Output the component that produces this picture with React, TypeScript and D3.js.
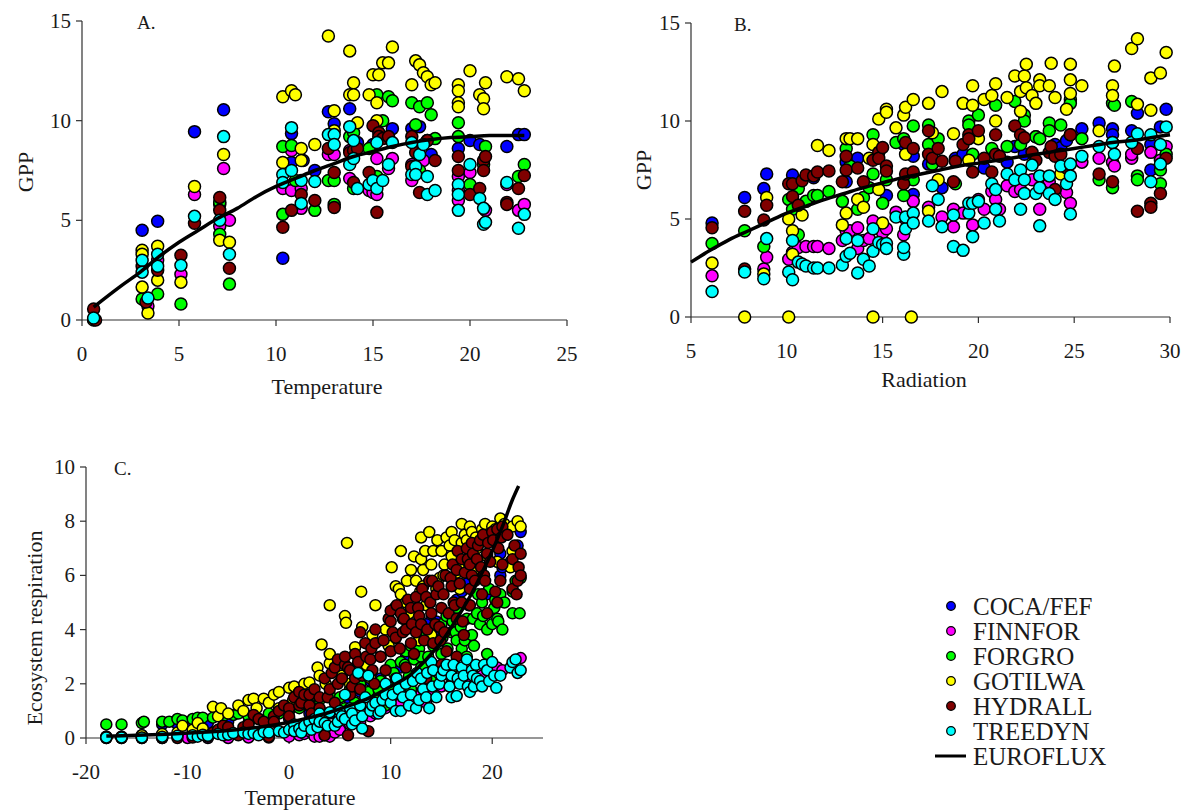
import React from "react";
import * as d3 from "d3";

type Pt = [number, number];

const SERIES_NAMES = ["COCA/FEF", "FINNFOR", "FORGRO", "GOTILWA", "HYDRALL", "TREEDYN"];
const SERIES_COLORS = ["#0000ff", "#ff00ff", "#00ff00", "#ffff00", "#800000", "#00ffff"];
const CURVE_NAME = "EUROFLUX";

// ---------- Panel A : GPP vs Temperature ----------
const A_COCA: Pt[] = [[3.1,4.5],[3.9,4.95],[5.8,9.45],[7.1,5.8],[7.3,10.55],[10.35,3.1],[10.8,9.35],[10.8,7.9],[12.0,7.5],[12.7,10.45],[13.0,9.85],[13.8,10.6],[15.0,8.8],[16.0,9.6],[17.0,9.6],[17.4,9.7],[18.0,8.3],[19.4,8.6],[20.0,9.0],[20.5,8.8],[21.9,8.7],[22.5,9.3],[22.8,9.3],[11.4,8.0],[14.2,8.9],[17.8,9.0]];
const A_FINNFOR: Pt[] = [[0.6,0.05],[3.4,0.7],[3.9,3.0],[5.1,2.3],[5.8,6.3],[7.1,4.7],[7.3,7.6],[7.6,5.0],[10.35,6.6],[10.8,8.5],[10.8,6.5],[11.3,6.6],[11.3,5.6],[12.7,8.3],[13.0,8.3],[13.8,8.5],[13.8,7.1],[14.8,6.5],[15.0,6.4],[15.2,8.1],[15.2,6.3],[15.8,7.6],[16.0,8.1],[17.0,7.8],[17.0,7.0],[17.6,8.0],[19.4,7.2],[19.4,6.5],[19.4,6.0],[20.0,7.4],[20.8,5.5],[21.9,6.8],[22.5,5.5],[22.8,5.8]];
const A_FORGRO: Pt[] = [[0.6,0.05],[3.1,1.05],[3.9,1.3],[5.1,0.8],[7.1,5.9],[7.1,4.3],[7.6,1.8],[10.35,8.7],[10.35,5.3],[10.8,8.75],[11.0,7.0],[12.0,5.5],[12.7,7.0],[13.0,7.0],[13.0,5.8],[13.8,9.2],[14.0,9.4],[14.0,6.6],[14.8,8.6],[15.2,11.3],[15.2,7.2],[15.5,10.0],[15.8,11.2],[16.0,11.0],[17.0,10.9],[17.2,9.8],[17.4,10.7],[17.4,7.5],[17.8,10.9],[18.0,10.3],[18.2,9.1],[19.4,9.9],[19.4,9.2],[20.0,6.8],[20.7,7.8],[20.8,8.7],[22.5,7.2],[22.8,7.8]];
const A_GOTILWA: Pt[] = [[0.6,0.0],[3.1,3.5],[3.1,3.3],[3.1,1.65],[3.4,0.35],[3.9,3.7],[3.9,2.0],[5.1,1.9],[5.8,6.7],[7.1,4.0],[7.3,8.3],[7.6,3.9],[10.35,11.2],[10.35,7.9],[10.8,11.5],[11.0,11.3],[11.3,8.6],[11.3,8.0],[12.0,8.8],[12.7,14.25],[13.0,10.5],[13.0,9.5],[13.8,13.5],[13.8,11.3],[14.0,11.9],[14.0,11.3],[14.2,9.9],[14.8,11.3],[15.0,12.3],[15.2,10.9],[15.2,10.0],[15.3,12.3],[15.5,12.9],[15.8,12.9],[16.0,13.7],[17.0,11.8],[17.2,13.0],[17.4,12.8],[17.6,12.4],[17.8,12.2],[18.0,11.8],[18.2,11.9],[19.4,11.8],[19.4,11.5],[19.4,10.9],[19.4,10.7],[20.0,12.5],[20.5,11.3],[20.7,11.1],[20.7,10.6],[20.8,11.9],[21.9,12.2],[22.5,12.1],[22.8,11.5]];
const A_HYDRALL: Pt[] = [[0.6,0.55],[0.7,0.0],[3.1,2.7],[3.3,0.9],[3.9,2.5],[5.1,3.25],[5.8,4.85],[7.1,6.15],[7.1,5.5],[7.6,2.6],[10.35,4.65],[10.8,5.5],[11.3,6.3],[12.0,6.0],[12.7,8.6],[13.0,7.4],[13.0,5.65],[13.8,8.4],[14.0,8.5],[14.0,6.9],[14.2,8.6],[14.8,7.4],[15.0,9.75],[15.2,5.4],[15.3,9.4],[15.3,9.2],[15.5,9.1],[15.8,9.2],[17.0,9.2],[17.0,7.7],[17.2,8.4],[17.4,6.4],[17.8,9.0],[18.2,8.0],[19.4,8.2],[19.4,7.5],[20.0,6.3],[20.5,6.6],[20.7,8.0],[20.7,7.5],[20.8,8.2],[21.9,5.9],[21.9,5.8],[22.5,6.6],[22.8,7.25]];
const A_TREEDYN: Pt[] = [[0.6,0.1],[3.1,3.0],[3.1,2.4],[3.4,1.1],[3.9,3.3],[3.9,2.7],[5.1,2.75],[5.8,5.2],[7.1,5.0],[7.3,9.2],[7.6,3.3],[10.35,7.3],[10.35,6.9],[10.8,9.65],[10.8,7.5],[11.3,7.0],[11.3,5.85],[12.0,6.95],[12.7,9.3],[13.0,9.3],[13.0,8.8],[13.8,9.7],[13.8,7.8],[14.0,9.0],[14.0,8.1],[14.2,6.6],[14.8,6.8],[15.0,7.0],[15.2,8.9],[15.2,6.6],[15.5,7.0],[15.8,7.8],[16.0,8.9],[17.0,8.9],[17.0,7.3],[17.2,7.7],[17.2,7.3],[17.4,8.3],[17.6,8.8],[17.8,7.2],[17.8,6.3],[18.2,6.5],[19.4,6.8],[19.4,6.3],[19.4,5.5],[20.0,7.8],[20.5,6.1],[20.7,5.6],[20.7,4.8],[20.8,4.9],[21.9,6.9],[22.5,4.6],[22.8,5.3]];
const A_EUROFLUX: Pt[] = [[0.6,0.65],[2,1.7],[3,2.4],[4,3.2],[5,3.9],[6,4.5],[7,5.1],[8,5.6],[9,6.2],[10,6.7],[11,7.1],[12,7.5],[13,7.85],[14,8.2],[15,8.45],[16,8.7],[17,8.9],[18,9.05],[19,9.15],[20,9.2],[21,9.25],[22,9.25],[22.8,9.25]];

// ---------- Panel B : GPP vs Radiation ----------
const B_COCA: Pt[] = [[6.1,4.8],[7.8,6.1],[8.8,6.55],[8.95,7.3],[10.3,7.25],[10.3,6.0],[11.4,7.1],[13.1,7.9],[13.1,6.9],[13.7,8.1],[15.2,6.2],[16.1,8.8],[16.6,8.2],[16.6,6.25],[17.4,7.8],[18.1,6.6],[18.8,8.1],[19.2,8.3],[20.3,7.6],[21.5,7.9],[21.9,8.7],[22.4,8.3],[23.0,9.2],[24.0,8.8],[24.3,8.65],[24.6,9.0],[24.8,9.3],[25.4,9.6],[26.3,9.9],[27.0,9.6],[27.0,9.3],[28.0,9.5],[28.3,10.4],[29.0,8.8],[29.0,7.5],[29.5,9.7],[29.8,10.6]];
const B_FINNFOR: Pt[] = [[6.1,2.1],[8.8,2.45],[8.95,3.05],[10.1,2.95],[10.3,3.3],[10.6,3.55],[11.0,3.6],[11.4,3.6],[11.6,3.6],[12.2,3.5],[12.9,3.9],[13.1,4.4],[13.3,4.4],[13.7,4.55],[13.7,3.5],[14.0,3.9],[14.3,4.0],[14.5,4.9],[14.8,4.5],[15.0,4.3],[15.2,4.5],[15.7,5.35],[16.1,4.2],[16.2,5.0],[16.6,5.9],[17.4,5.6],[18.1,5.1],[18.7,4.6],[18.7,5.5],[19.2,5.3],[19.7,4.7],[20.0,6.0],[20.3,5.5],[20.7,6.4],[20.9,6.0],[21.1,5.5],[21.5,6.7],[21.9,6.4],[22.2,6.5],[22.8,7.0],[23.2,5.5],[23.7,6.9],[24.6,6.35],[24.8,5.8],[25.4,7.9],[26.3,8.1],[27.0,7.9],[27.1,7.7],[28.0,8.1],[28.0,8.3],[29.0,8.4],[29.5,8.0],[29.8,8.7]];
const B_FORGRO: Pt[] = [[6.1,3.75],[7.8,4.4],[8.8,3.6],[10.1,6.0],[10.3,5.5],[10.6,6.55],[10.6,4.2],[11.0,5.9],[11.4,6.2],[11.6,6.2],[12.2,6.4],[12.9,5.9],[13.1,8.6],[13.3,7.7],[13.7,5.5],[14.0,6.1],[14.3,6.6],[14.5,9.3],[14.5,7.3],[15.0,5.8],[15.2,7.0],[15.7,8.9],[16.1,9.1],[16.1,6.2],[16.6,9.75],[16.6,7.0],[17.4,9.8],[17.4,8.8],[17.6,7.8],[17.9,9.1],[18.8,6.8],[19.5,10.0],[19.5,9.8],[19.7,8.3],[20.0,10.3],[20.7,8.6],[20.9,10.8],[21.5,8.7],[21.9,11.0],[22.2,8.8],[22.4,10.3],[22.4,10.0],[23.0,9.2],[23.2,9.1],[23.7,9.9],[23.7,9.5],[24.3,9.8],[24.8,11.1],[24.8,10.9],[25.4,9.1],[26.3,7.0],[27.0,10.9],[27.0,8.9],[27.0,6.6],[27.1,10.8],[28.0,11.0],[28.3,7.2],[28.3,7.0],[29.5,7.5],[29.5,6.8],[29.8,8.3]];
const B_GOTILWA: Pt[] = [[6.1,2.75],[7.8,0],[8.8,2.2],[8.95,6.1],[10.1,5.0],[10.1,0],[10.3,4.4],[10.3,3.2],[10.8,5.2],[11.6,8.75],[12.2,8.5],[12.9,4.7],[13.1,9.1],[13.1,5.3],[13.3,9.1],[13.7,9.1],[13.7,6.0],[14.0,5.6],[14.3,8.1],[14.5,8.8],[14.5,0],[14.8,10.1],[14.8,6.5],[15.0,4.8],[15.2,10.6],[15.2,10.45],[15.7,9.65],[16.1,10.3],[16.2,10.7],[16.2,8.3],[16.5,0],[16.6,11.1],[17.4,10.9],[17.4,5.4],[17.6,9.4],[17.9,7.0],[18.1,11.5],[18.7,9.35],[19.2,10.9],[19.5,8.0],[19.7,11.8],[19.7,10.8],[20.0,9.1],[20.3,11.1],[20.7,11.3],[20.9,11.9],[20.9,10.0],[21.5,11.2],[21.9,12.3],[22.2,11.5],[22.2,10.5],[22.4,12.3],[22.5,12.9],[22.5,11.7],[22.8,11.3],[23.0,10.9],[23.2,12.1],[23.2,11.8],[23.7,11.8],[23.8,12.95],[24.0,11.2],[24.3,7.3],[24.6,10.6],[24.8,12.9],[24.8,12.1],[24.8,11.4],[25.4,11.8],[26.3,9.5],[27.0,11.8],[27.0,11.3],[27.1,12.8],[28.0,13.7],[28.3,14.2],[28.3,10.85],[29.0,12.2],[29.0,10.55],[29.5,12.45],[29.8,13.5]];
const B_HYDRALL: Pt[] = [[6.1,4.55],[7.8,5.4],[7.8,2.45],[8.8,4.95],[8.95,5.7],[10.1,6.8],[10.3,6.8],[10.3,6.15],[10.6,5.7],[10.8,6.95],[11.0,7.25],[11.4,7.2],[11.6,7.4],[12.2,7.45],[12.9,6.9],[13.1,8.2],[13.1,7.5],[13.7,7.6],[14.0,6.9],[14.5,8.0],[14.8,8.4],[14.8,8.1],[15.0,8.65],[15.2,7.7],[15.2,7.45],[16.1,6.8],[16.2,8.9],[16.2,7.3],[16.6,8.6],[16.6,7.4],[17.4,9.5],[17.4,8.3],[17.6,8.1],[17.9,8.6],[18.1,7.95],[18.7,6.9],[18.8,7.95],[19.2,8.8],[19.5,9.3],[19.5,9.1],[19.7,7.4],[20.0,9.5],[20.3,8.1],[20.7,7.4],[20.9,9.3],[20.9,8.3],[21.1,8.2],[21.9,9.75],[22.2,9.3],[22.4,9.15],[22.8,8.4],[23.0,8.0],[23.7,8.4],[23.8,8.7],[24.0,8.2],[24.0,6.5],[24.3,8.3],[24.6,7.6],[24.8,9.3],[26.3,7.3],[27.0,6.9],[28.3,8.6],[28.3,5.4],[29.0,5.8],[29.0,5.6],[29.5,6.3],[29.8,8.1]];
const B_TREEDYN: Pt[] = [[6.1,1.3],[7.8,2.3],[8.8,1.95],[8.95,4.0],[10.1,2.3],[10.3,3.9],[10.3,1.9],[10.6,2.8],[10.8,2.7],[11.0,2.6],[11.4,2.5],[11.6,2.5],[12.2,2.5],[12.9,2.65],[13.1,4.0],[13.1,3.1],[13.3,3.25],[13.7,3.9],[13.7,2.25],[14.0,2.95],[14.3,2.6],[14.5,4.5],[14.5,3.35],[14.8,3.8],[15.0,3.7],[15.2,3.75],[15.2,3.5],[15.7,5.1],[16.1,3.2],[16.1,3.55],[16.2,4.5],[16.2,5.1],[16.6,5.3],[16.6,4.8],[17.4,4.9],[17.6,6.7],[17.9,6.0],[18.1,4.6],[18.7,3.6],[18.7,5.2],[19.2,3.4],[19.5,5.3],[19.5,5.8],[19.7,4.1],[19.7,5.8],[20.0,5.9],[20.3,4.8],[20.7,6.8],[20.9,6.5],[20.9,5.5],[21.1,4.9],[21.5,7.3],[21.9,7.0],[22.2,7.5],[22.2,5.5],[22.4,7.0],[22.4,6.3],[22.8,7.75],[23.0,6.3],[23.2,7.2],[23.2,6.6],[23.2,4.65],[23.7,7.2],[23.7,6.3],[24.0,6.0],[24.3,7.7],[24.6,6.8],[24.8,7.8],[24.8,7.2],[24.8,5.25],[25.4,8.2],[26.3,8.7],[27.0,8.9],[27.1,8.3],[28.0,8.9],[28.3,9.35],[29.0,9.3],[29.0,6.9],[29.5,8.8],[29.5,7.8],[29.8,9.7]];
const B_EUROFLUX: Pt[] = [[5,2.8],[6,3.4],[7,3.95],[8,4.4],[9,4.85],[10,5.3],[11,5.65],[12,6.0],[13,6.3],[14,6.6],[15,6.85],[16,7.1],[17,7.3],[18,7.5],[19,7.7],[20,7.85],[21,8.0],[22,8.15],[23,8.3],[24,8.45],[25,8.6],[26,8.75],[27,8.9],[28,9.0],[29,9.15],[30,9.3]];

// ---------- Panel C : Ecosystem respiration vs Temperature ----------
const C_COCA: Pt[] = [[-18,0.05],[-16.5,0.05],[-14.5,0.1],[-12.5,0.5],[-11,0.5],[-9.5,0.45],[-8,0.55],[-6,0.6],[-4,0.55],[-2,0.7],[0,0.7],[2,0.9],[4,0.9],[6,1.3],[8,2.1],[9,2.2],[10.5,3.7],[11,2.6],[12,3.3],[13,3.0],[14,4.4],[14.5,4.3],[15,3.8],[16.5,5.1],[17.5,5.7],[18.5,6.1],[19.5,5.3],[20.5,6.5],[20.8,6.8],[20.8,6.0],[21,6.3],[22.5,7.1],[22.8,7.6],[7,1.7],[11.5,3.0],[13.5,4.2],[16,4.4],[17,5.4],[19,5.9],[21.8,6.5]];
const C_FINNFOR: Pt[] = [[-18,0],[-16.5,0],[-14.5,0],[-12.5,0],[-10,0],[-8,0],[-6,0],[-4,0.02],[-2,0.02],[0,0.05],[1,0.1],[1.5,0.15],[2,0.25],[2.5,0.05],[3,0.05],[3.5,0.1],[4,0.05],[4.5,0.2],[5,0.3],[6,0.5],[7,0.6],[8,0.8],[8.5,0.9],[9.5,1.1],[10.5,1.2],[11,1.3],[12,1.5],[13,1.6],[13.5,1.3],[14,1.7],[15,1.9],[16,2.0],[17,2.1],[17.5,2.0],[18,2.1],[19,2.3],[20,2.6],[20.5,2.6],[21,2.5],[22,2.7],[22.8,2.95]];
const C_FORGRO: Pt[] = [[-18,0.5],[-16.5,0.5],[-14.5,0.55],[-14.3,0.6],[-12.5,0.6],[-11.8,0.6],[-11,0.7],[-10.5,0.65],[-9.5,0.7],[-9,0.75],[-8.5,0.75],[-7.5,0.75],[-6.5,0.8],[-5.5,0.85],[-5,0.9],[-4,0.8],[-3,0.7],[-2,0.9],[-1,0.9],[0,1.0],[1,1.1],[2,1.3],[3,1.4],[3.5,0.9],[4,1.6],[5,1.5],[5.5,1.1],[6,1.8],[6.5,1.3],[7,2.0],[7.5,2.5],[7.8,1.7],[8,2.3],[8.5,1.4],[8.8,1.8],[9,2.1],[9.5,1.2],[9.8,1.9],[10,2.7],[10.3,2.4],[10.5,2.2],[10.8,2.0],[11,2.8],[11,1.6],[11.4,2.7],[11.5,3.2],[11.8,2.3],[12,3.4],[12,1.8],[12.3,2.9],[12.5,2.2],[12.8,3.3],[13,3.0],[13,2.6],[13.3,2.6],[13.5,3.8],[13.5,2.0],[13.7,3.0],[14,4.0],[14,2.1],[14.2,3.4],[14.5,3.5],[14.6,2.6],[15,4.2],[15,3.1],[15.1,3.7],[15.5,4.5],[15.6,3.3],[15.8,2.3],[16,3.9],[16,2.5],[16.1,4.3],[16.4,3.9],[16.5,4.8],[16.5,3.6],[16.9,4.1],[17,3.3],[17.3,3.6],[17.5,4.4],[17.5,3.0],[17.7,4.9],[18,3.8],[18.1,4.4],[18.2,3.4],[18.5,4.6],[18.6,5.3],[18.8,4.2],[19,5.0],[19.1,4.5],[19.5,4.0],[19.5,3.1],[19.7,5.5],[20,4.2],[20.2,4.8],[20.3,5.1],[20.5,4.4],[20.6,4.3],[20.8,5.3],[21,4.0],[21.2,5.0],[22,4.6],[22,5.4],[22.3,5.8],[22.7,4.6],[22.8,5.9]];
const C_GOTILWA: Pt[] = [[-18,0.05],[-16.5,0.05],[-14.5,0.1],[-12.5,0.15],[-11,0.2],[-10.5,0.45],[-9.5,0.3],[-9,0.55],[-8.5,0.35],[-7.5,1.15],[-7,0.8],[-6.7,1.1],[-6,0.9],[-5,1.2],[-4.5,1.0],[-4,1.4],[-3.5,1.45],[-3.2,1.1],[-2.5,1.45],[-2,1.3],[-1.5,1.6],[-1,1.7],[-1,1.1],[0,1.85],[0.4,1.4],[0.5,1.9],[1,1.7],[1.5,2.0],[1.8,1.5],[2,2.05],[2.5,1.6],[2.8,2.6],[3,2.3],[3.2,3.45],[3.6,2.0],[4,2.75],[4,3.1],[4,4.9],[5.2,2.3],[5.5,4.5],[5.6,4.25],[5.7,7.2],[6,2.0],[6.5,3.35],[6.6,2.6],[7.1,5.4],[7.2,4.1],[7.6,2.7],[8,2.2],[8.2,3.8],[8.5,4.9],[9,3.0],[9.5,4.0],[9.8,3.4],[10.1,6.3],[10.4,4.8],[10.5,5.6],[10.8,5.5],[11,6.9],[11,5.3],[11.2,4.4],[11.5,5.0],[11.6,5.8],[12,6.2],[12.3,6.7],[12.5,5.8],[12.5,4.2],[12.8,3.6],[12.9,5.4],[13,7.4],[13,6.6],[13.2,6.2],[13.2,5.6],[13.4,6.9],[13.5,4.9],[13.8,7.6],[14,6.4],[14,3.8],[14.2,6.9],[14.5,5.5],[14.6,7.3],[14.8,5.9],[15,6.9],[15.2,6.0],[15.3,6.4],[15.5,7.4],[15.8,7.1],[16,6.7],[16,7.6],[16.3,7.3],[16.5,6.1],[16.7,6.3],[16.8,5.5],[17,7.9],[17,7.2],[17.3,7.5],[17.5,7.3],[17.5,6.6],[17.8,7.8],[18,7.6],[18.2,6.2],[18.4,7.4],[18.5,7.0],[19,7.7],[19.3,7.9],[19.5,6.7],[19.8,7.3],[20,7.8],[20.3,7.7],[20.5,6.5],[20.8,8.1],[21.2,7.9],[21.8,6.3],[22,7.8],[22,6.9],[22.5,8.0],[22.8,7.8],[11.8,4.6]];
const C_HYDRALL: Pt[] = [[-18,0],[-16.5,0],[-14.5,0],[-12.5,0],[-11,0],[-9.5,0.02],[-8,0.05],[-7.5,0.2],[-7,0.3],[-6.5,0.45],[-6,0.4],[-5,0.1],[-4.5,0.4],[-4,0.5],[-3.5,0.85],[-3,0.7],[-2.5,0.6],[-2,0.05],[-1.5,0.8],[-1.5,0.6],[-1,1.0],[-0.5,1.2],[0,1.1],[0,0.8],[0.5,1.5],[0.5,0.4],[1,1.7],[1,1.2],[1.2,1.3],[1.5,1.6],[2,1.2],[2,1.6],[2.2,0.9],[2.5,1.8],[2.5,0.6],[3,1.5],[3,1.1],[3.5,2.2],[3.5,0.1],[3.8,1.5],[4,1.8],[4.2,2.4],[4.5,2.6],[4.5,1.3],[4.8,2.0],[4.8,2.9],[5.2,2.2],[5.5,2.7],[5.5,3.0],[5.8,0.1],[5.8,2.6],[6,2.5],[6,1.6],[6.2,1.9],[6.5,3.1],[6.5,2.2],[6.8,2.8],[7,3.9],[7,1.8],[7.2,2.3],[7.5,3.5],[7.6,3.0],[7.8,0.25],[8,2.9],[8.1,3.3],[8.2,2.5],[8.4,2.0],[8.5,3.5],[8.5,4.0],[9,3.0],[9.3,3.6],[9.5,2.5],[9.8,4.4],[10,4.7],[10,4.3],[10,3.2],[10.2,3.9],[10.5,3.7],[10.6,4.9],[10.9,3.3],[11,4.6],[11.2,3.9],[11.3,4.4],[11.5,4.0],[11.5,2.6],[11.7,5.1],[12,4.8],[12,3.5],[12.1,4.2],[12.3,3.1],[12.5,3.9],[12.5,5.2],[12.7,4.8],[12.8,4.5],[13,4.2],[13.1,5.5],[13.3,3.6],[13.5,5.2],[13.5,2.2],[13.6,4.0],[13.8,5.8],[13.9,5.0],[14,4.6],[14.1,5.8],[14.2,3.5],[14.4,4.2],[14.5,5.3],[14.7,5.6],[14.8,4.1],[14.9,3.6],[15,4.8],[15,2.7],[15.2,5.3],[15.3,3.9],[15.4,6.0],[15.5,3.2],[15.7,4.6],[15.9,5.9],[16,5.6],[16.1,6.4],[16.2,5.0],[16.3,4.9],[16.5,6.2],[16.5,4.4],[16.5,3.0],[16.6,6.9],[16.8,5.7],[17,6.6],[17,5.0],[17.1,4.3],[17.2,3.8],[17.3,6.1],[17.5,7.0],[17.6,6.6],[17.8,5.5],[17.8,6.4],[17.8,4.9],[18,7.2],[18,6.0],[18.1,6.8],[18.3,5.8],[18.5,6.6],[18.6,7.1],[18.8,7.3],[18.9,6.3],[19,5.3],[19.1,7.5],[19.2,6.0],[19.3,5.8],[19.5,6.8],[19.5,4.6],[19.6,7.2],[19.8,6.5],[20,7.6],[20.1,7.3],[20.3,5.4],[20.5,7.7],[20.5,5.0],[20.6,7.0],[20.8,5.8],[20.9,7.4],[21,7.8],[21,6.4],[21.5,7.5],[22,6.6],[22,5.5],[22.2,7.1],[22.4,5.3],[22.5,5.8],[22.6,6.3],[22.8,6.8],[22.8,6.0]];
const C_TREEDYN: Pt[] = [[-18,0.02],[-16.5,0.02],[-14.5,0.02],[-12.5,0.05],[-11,0.08],[-9.5,0.1],[-9,0.05],[-8.5,0.12],[-8,0.08],[-7,0.15],[-6.5,0.1],[-6,0.12],[-5.5,0.18],[-4.5,0.2],[-4,0.15],[-3.5,0.18],[-3,0.1],[-2.5,0.22],[-2,0.2],[-1,0.25],[-0.5,0.2],[0,0.3],[0.5,0.5],[0.5,0.25],[1,0.35],[1.2,0.2],[1.5,0.45],[2,0.6],[2.2,0.3],[2.5,0.7],[2.8,0.4],[3,0.9],[3,0.6],[3.5,0.55],[3.8,0.45],[4,0.95],[4.5,0.45],[4.8,0.6],[5,1.0],[5.2,0.8],[5.5,0.7],[5.5,1.6],[6,1.1],[6.2,0.9],[6.2,0.5],[6.5,0.65],[6.8,2.4],[7,1.2],[7.2,0.8],[7.2,0.35],[7.5,1.5],[7.8,2.3],[8,1.0],[8.2,1.2],[8.5,1.3],[8.8,0.9],[9,1.0],[9.2,1.4],[9.5,1.6],[9.5,2.0],[10,1.3],[10.2,1.6],[10.5,1.0],[10.6,2.2],[10.8,1.8],[11,1.0],[11.2,1.5],[11.5,2.0],[11.8,1.2],[12,1.6],[12.2,2.1],[12.5,1.1],[12.6,2.4],[12.8,1.4],[13,2.2],[13.2,1.8],[13.5,1.5],[13.6,2.4],[13.8,1.1],[14,2.8],[14.1,1.9],[14.2,2.5],[14.5,1.5],[14.8,2.0],[15,2.3],[15.2,2.5],[15.5,2.7],[15.8,1.9],[16,2.3],[16,1.5],[16.2,2.7],[16.5,1.55],[16.6,2.2],[16.8,2.0],[17,2.6],[17.2,2.3],[17.5,2.9],[17.6,1.9],[17.8,1.7],[18,2.5],[18.1,2.3],[18.2,1.9],[18.4,2.7],[18.5,2.2],[18.8,2.1],[19,1.9],[19.2,2.7],[19.5,2.5],[19.7,2.1],[20,2.8],[20.2,2.3],[20.4,1.85],[20.8,2.3],[21.8,2.6],[22,2.8],[22.3,2.9],[22.5,2.4],[22.8,2.5]];
const C_EUROFLUX: Pt[] = [[-18,0.07],[-15,0.1],[-12,0.14],[-9,0.2],[-6,0.28],[-3,0.4],[0,0.58],[2,0.75],[4,0.95],[6,1.2],[8,1.5],[10,1.9],[11,2.1],[12,2.35],[13,2.7],[14,3.1],[15,3.55],[16,4.1],[17,4.7],[18,5.35],[19,6.1],[20,6.9],[21,7.8],[22,8.8],[22.6,9.3]];

const A_SERIES = [A_COCA, A_FINNFOR, A_FORGRO, A_GOTILWA, A_HYDRALL, A_TREEDYN];
const B_SERIES = [B_COCA, B_FINNFOR, B_FORGRO, B_GOTILWA, B_HYDRALL, B_TREEDYN];
const C_SERIES = [C_COCA, C_FINNFOR, C_FORGRO, C_GOTILWA, C_HYDRALL, C_TREEDYN];

const X_TICKS_A = [0, 5, 10, 15, 20, 25];
const Y_TICKS_A = [0, 5, 10, 15];
const X_TICKS_B = [5, 10, 15, 20, 25, 30];
const Y_TICKS_B = [0, 5, 10, 15];
const X_TICKS_C = [-20, -10, 0, 10, 20];
const Y_TICKS_C = [0, 2, 4, 6, 8, 10];

const FONT = "'Liberation Serif', 'DejaVu Serif', serif";
const TXT = "#1a1a1a";
const AX = "#303030";

interface PanelProps {
  xDomain: [number, number];
  xRange: [number, number];
  yDomain: [number, number];
  yRange: [number, number];
  xTicks: number[];
  yTicks: number[];
  series: Pt[][];
  curve: Pt[];
  letter: string;
  letterPos: [number, number];
  xTitle: string;
  xTitlePos: [number, number];
  yTitle: string;
  yTitlePos: [number, number];
  r: number;
}

function Panel(p: PanelProps) {
  const x = d3.scaleLinear().domain(p.xDomain).range(p.xRange);
  const y = d3.scaleLinear().domain(p.yDomain).range(p.yRange);
  const line = d3
    .line<Pt>()
    .x((d) => x(d[0]))
    .y((d) => y(d[1]))
    .curve(d3.curveMonotoneX);
  const x0 = p.xRange[0];
  const y0 = p.yRange[0];
  return (
    <g>
      <line x1={x0} x2={x0} y1={p.yRange[0]} y2={p.yRange[1]} stroke={AX} strokeWidth={1.2} />
      <line x1={p.xRange[0]} x2={p.xRange[1]} y1={y0} y2={y0} stroke={AX} strokeWidth={1.2} />
      {p.yTicks.map((t) => (
        <g key={"y" + t}>
          <line x1={x0 - 6} x2={x0} y1={y(t)} y2={y(t)} stroke={AX} strokeWidth={1.2} />
          <text x={x0 - 11} y={y(t) + 7} textAnchor="end" fontSize={21} fontFamily={FONT} fill={TXT}>
            {t}
          </text>
        </g>
      ))}
      {p.xTicks.map((t) => (
        <g key={"x" + t}>
          <line x1={x(t)} x2={x(t)} y1={y0} y2={y0 + 6} stroke={AX} strokeWidth={1.2} />
          <text x={x(t)} y={y0 + 41} textAnchor="middle" fontSize={21} fontFamily={FONT} fill={TXT}>
            {t}
          </text>
        </g>
      ))}
      {p.series.map((s, si) => (
        <g key={"s" + si}>
          {s.map((d, i) => (
            <circle
              key={i}
              cx={x(d[0])}
              cy={y(d[1])}
              r={p.r}
              fill={SERIES_COLORS[si]}
              stroke="#000"
              strokeWidth={1.5}
            />
          ))}
        </g>
      ))}
      <path d={line(p.curve) || ""} fill="none" stroke="#000" strokeWidth={3.5} />
      <text x={p.letterPos[0]} y={p.letterPos[1]} fontSize={19} fontFamily={FONT} fill={TXT}>
        {p.letter}
      </text>
      <text x={p.xTitlePos[0]} y={p.xTitlePos[1]} textAnchor="middle" fontSize={22} fontFamily={FONT} fill={TXT}>
        {p.xTitle}
      </text>
      <text
        transform={`translate(${p.yTitlePos[0]},${p.yTitlePos[1]}) rotate(-90)`}
        textAnchor="middle"
        fontSize={22}
        fontFamily={FONT}
        fill={TXT}
      >
        {p.yTitle}
      </text>
    </g>
  );
}

export default function App() {
  return (
    <svg
      width={1188}
      height={812}
      style={{ position: "absolute", left: 0, top: 0, display: "block", background: "#fff" }}
    >
      <rect x={0} y={0} width={1188} height={812} fill="#fff" />
      <Panel
        xDomain={[0, 25]}
        xRange={[82, 567]}
        yDomain={[0, 15]}
        yRange={[320, 21]}
        xTicks={X_TICKS_A}
        yTicks={Y_TICKS_A}
        series={A_SERIES}
        curve={A_EUROFLUX}
        letter="A."
        letterPos={[137, 29]}
        xTitle="Temperature"
        xTitlePos={[327, 394]}
        yTitle="GPP"
        yTitlePos={[33, 172]}
        r={6}
      />
      <Panel
        xDomain={[5, 30]}
        xRange={[691, 1170]}
        yDomain={[0, 15]}
        yRange={[317, 23]}
        xTicks={X_TICKS_B}
        yTicks={Y_TICKS_B}
        series={B_SERIES}
        curve={B_EUROFLUX}
        letter="B."
        letterPos={[734, 31]}
        xTitle="Radiation"
        xTitlePos={[924, 387]}
        yTitle="GPP"
        yTitlePos={[651, 170]}
        r={6}
      />
      <Panel
        xDomain={[-20, 25]}
        xRange={[86, 543]}
        yDomain={[0, 10]}
        yRange={[738, 467]}
        xTicks={X_TICKS_C}
        yTicks={Y_TICKS_C}
        series={C_SERIES}
        curve={C_EUROFLUX}
        letter="C."
        letterPos={[114, 475]}
        xTitle="Temperature"
        xTitlePos={[300, 805]}
        yTitle="Ecosystem respiration"
        yTitlePos={[42, 628]}
        r={5.5}
      />
      <g>
        {SERIES_NAMES.map((name, i) => (
          <g key={name}>
            <circle cx={951} cy={606 + 25 * i} r={4.3} fill={SERIES_COLORS[i]} stroke="#000" strokeWidth={1.3} />
            <text x={973} y={606 + 25 * i + 8.5} fontSize={25} fontFamily={FONT} fill={TXT}>
              {name}
            </text>
          </g>
        ))}
        <line x1={935} x2={966} y1={756} y2={756} stroke="#000" strokeWidth={3} />
        <text x={973} y={756 + 8.5} fontSize={25} fontFamily={FONT} fill={TXT}>
          {CURVE_NAME}
        </text>
      </g>
    </svg>
  );
}
